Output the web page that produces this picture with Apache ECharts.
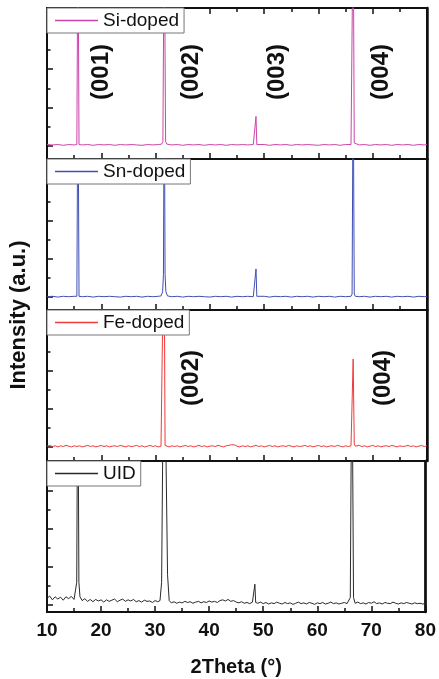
<!DOCTYPE html>
<html>
<head>
<meta charset="utf-8">
<script src="https://cdn.jsdelivr.net/npm/echarts@6/dist/echarts.min.js"></script>
<style>
  html, body { margin: 0; padding: 0; background: #fff; }
  #main { width: 439px; height: 679px; }
</style>
</head>
<body>
<div id="main"></div>
<script>
// sample names, top to bottom
var names = ['Si-doped', 'Sn-doped', 'Fe-doped', 'UID'];
var xTitle = '2Theta (°)';
var yTitle = 'Intensity (a.u.)';
// tick positions on the intensity axes (a.u.)
var yMajorTicks = [0, 100, 200, 300];
var yMinorTicks = [50, 150, 250, 350];
// peak labels
var siLabels = ['(001)', '(002)', '(003)', '(004)'];
var feLabels = ['(002)', '(004)'];

// [2theta, intensity]; tall peaks run off the panel
var siData = [
  [10, 2], [11, 1], [12, 2], [13, 0], [14, 2], [15, 1], [15.5, 2], [15.7, 600], [15.9, 2],
  [16.5, 1], [17.5, 2], [18.5, 0], [19.5, 2], [20.5, 1], [21.5, 2], [22.5, 0], [23.5, 2],
  [24.5, 1], [25.5, 2], [26.5, 1], [27.5, 0], [28.5, 2], [29.5, 1], [30.5, 2], [31.1, 3],
  [31.35, 10], [31.6, 600], [31.85, 10], [32.1, 3], [33, 1], [34, 2], [35, 0], [36, 2],
  [37, 1], [38, 2], [39, 0], [40, 2], [41, 1], [42, 2], [43, 0], [44, 2], [45, 1], [46, 2],
  [47, 1], [48, 2], [48.35, 2], [48.5, 76], [48.65, 2], [49, 1], [50, 2], [51, 0], [52, 2],
  [53, 1], [54, 2], [55, 0], [56, 2], [57, 1], [58, 2], [59, 1], [60, 0], [61, 2], [62, 1],
  [63, 2], [64, 0], [65, 2], [66, 2], [66.2, 6], [66.4, 600], [66.6, 6], [66.8, 2], [67.5, 1],
  [68.5, 2], [69.5, 0], [70.5, 2], [71.5, 1], [72.5, 2], [73.5, 0], [74.5, 2], [75.5, 1],
  [76.5, 2], [77.5, 0], [78.5, 2], [79.5, 1], [80, 2]
];
var snData = [
  [10, 1], [11, 2], [12, 0], [13, 2], [14, 1], [15, 2], [15.5, 2], [15.7, 600], [15.9, 2],
  [16.5, 1], [17.5, 2], [18.5, 0], [19.5, 2], [20.5, 1], [21.5, 2], [22.5, 1], [23.5, 0],
  [24.5, 2], [25.5, 1], [26.5, 2], [27.5, 0], [28.5, 2], [29.5, 1], [30.5, 2], [31.0, 3],
  [31.3, 14], [31.45, 60], [31.6, 600], [31.75, 60], [31.9, 14], [32.2, 3], [33, 1], [34, 2],
  [35, 0], [36, 2], [37, 1], [38, 2], [39, 1], [40, 0], [41, 2], [42, 1], [43, 2], [44, 0],
  [45, 2], [46, 1], [47, 2], [48, 1], [48.35, 2], [48.5, 74], [48.65, 2], [49, 1], [50, 2],
  [51, 0], [52, 2], [53, 1], [54, 2], [55, 0], [56, 2], [57, 1], [58, 2], [59, 0], [60, 2],
  [61, 1], [62, 2], [63, 0], [64, 2], [65, 1], [66, 2], [66.2, 8], [66.4, 600], [66.6, 8],
  [66.8, 2], [67.5, 1], [68.5, 2], [69.5, 0], [70.5, 2], [71.5, 1], [72.5, 2], [73.5, 0],
  [74.5, 2], [75.5, 1], [76.5, 2], [77.5, 0], [78.5, 2], [79.5, 1], [80, 2]
];
var feData = [
  [10, 2], [10.5, 4], [11, 1], [11.5, 3], [12, 0], [12.5, 3], [13, 1], [13.5, 4], [14, 2],
  [14.5, 0], [15, 3], [15.5, 1], [16, 3], [16.5, 0], [17, 2], [17.5, 4], [18, 1], [18.5, 3],
  [19, 0], [19.5, 2], [20, 4], [20.5, 1], [21, 3], [21.5, 0], [22, 2], [22.5, 3], [23, 1],
  [23.5, 4], [24, 2], [24.5, 0], [25, 3], [25.5, 1], [26, 2], [26.5, 4], [27, 1], [27.5, 3],
  [28, 0], [28.5, 2], [29, 4], [29.5, 1], [30, 3], [30.5, 0], [31, 2], [31.35, 4],
  [31.55, 600], [31.75, 4], [32, 2], [32.5, 0], [33, 3], [33.5, 1], [34, 3], [34.5, 0],
  [35, 2], [35.5, 4], [36, 1], [36.5, 3], [37, 0], [37.5, 2], [38, 4], [38.5, 1], [39, 3],
  [39.5, 0], [40, 2], [40.5, 3], [41, 1], [41.5, 4], [42, 2], [42.5, 0], [43, 3], [43.5, 4],
  [44, 6], [44.3, 8], [44.6, 5], [45, 2], [45.5, 0], [46, 3], [46.5, 1], [47, 3], [47.5, 0],
  [48, 2], [48.5, 4], [49, 1], [49.5, 3], [50, 0], [50.5, 2], [51, 4], [51.5, 1], [52, 3],
  [52.5, 0], [53, 2], [53.5, 3], [54, 1], [54.5, 4], [55, 2], [55.5, 0], [56, 3], [56.5, 1],
  [57, 2], [57.5, 4], [58, 1], [58.5, 3], [59, 0], [59.5, 2], [60, 4], [60.5, 1], [61, 3],
  [61.5, 0], [62, 2], [62.5, 3], [63, 1], [63.5, 4], [64, 2], [64.5, 0], [65, 3], [65.5, 1],
  [66, 3], [66.2, 8], [66.4, 231], [66.6, 8], [66.8, 2], [67.5, 4], [68, 1], [68.5, 3],
  [69, 0], [69.5, 2], [70, 4], [70.5, 1], [71, 3], [71.5, 0], [72, 2], [72.5, 3], [73, 1],
  [73.5, 4], [74, 2], [74.5, 0], [75, 3], [75.5, 1], [76, 2], [76.5, 4], [77, 1], [77.5, 3],
  [78, 0], [78.5, 2], [79, 4], [79.5, 1], [80, 3]
];
var uidData = [
  [10, 18], [10.5, 24], [11, 14], [11.5, 22], [12, 16], [12.5, 21], [13, 13], [13.5, 22],
  [14, 17], [14.5, 23], [15, 15], [15.3, 19], [15.5, 60], [15.7, 700], [15.9, 60], [16.1, 22],
  [16.5, 12], [17, 17], [17.5, 10], [18, 15], [18.5, 9], [19, 15], [19.5, 11], [20, 14],
  [20.5, 8], [21, 14], [21.5, 10], [22, 13], [22.5, 16], [23, 9], [23.5, 13], [24, 16],
  [24.5, 10], [25, 14], [25.5, 11], [26, 15], [26.5, 9], [27, 12], [27.5, 8], [28, 13],
  [28.5, 10], [29, 11], [29.5, 7], [30, 12], [30.5, 9], [30.9, 12], [31.2, 60], [31.4, 400],
  [31.7, 700], [32.0, 400], [32.3, 80], [32.6, 12], [33, 6], [33.5, 9], [34, 5], [34.5, 8],
  [35, 6], [35.5, 10], [36, 7], [36.5, 9], [37, 5], [37.5, 8], [38, 10], [38.5, 6], [39, 9],
  [39.5, 7], [40, 11], [40.5, 8], [41, 10], [41.5, 7], [42, 12], [42.5, 14], [43, 11],
  [43.5, 15], [44, 10], [44.5, 12], [45, 8], [45.5, 6], [46, 9], [46.5, 5], [47, 7],
  [47.5, 4], [48, 8], [48.3, 6], [48.45, 55], [48.6, 7], [49, 5], [49.5, 8], [50, 4],
  [50.5, 7], [51, 3], [51.5, 6], [52, 4], [52.5, 8], [53, 5], [53.5, 3], [54, 7], [54.5, 4],
  [55, 6], [55.5, 2], [56, 5], [56.5, 8], [57, 4], [57.5, 6], [58, 3], [58.5, 7], [59, 5],
  [59.5, 2], [60, 6], [60.5, 4], [61, 7], [61.5, 3], [62, 5], [62.5, 8], [63, 4], [63.5, 6],
  [64, 3], [64.5, 5], [65, 7], [65.5, 4], [65.8, 6], [66.1, 20], [66.4, 700], [66.7, 20],
  [67, 5], [67.5, 8], [68, 4], [68.5, 6], [69, 3], [69.5, 7], [70, 5], [70.5, 9], [71, 4],
  [71.5, 6], [72, 3], [72.5, 7], [73, 5], [73.5, 4], [74, 8], [74.5, 5], [75, 3], [75.5, 6],
  [76, 4], [76.5, 7], [77, 5], [77.5, 3], [78, 6], [78.5, 4], [79, 5], [79.5, 3], [80, 4]
];

var seriesData = [siData, snData, feData, uidData];
var colors = ['#cc44aa', '#4050b4', '#f03a3a', '#2a2a2a'];

// layout of the four stacked panels
var font = 'Liberation Sans, Arial, sans-serif';
var gridTops = [8, 159, 310, 461];
var gridHeight = 151;
var yMins = [-36, -34, -37, -18];
var ySpan = 397;

var grids = [], xAxes = [], yAxes = [], series = [], legends = [];
for (var i = 0; i < 4; i++) {
  grids.push({
    left: 47, right: 12, top: gridTops[i], height: gridHeight,
    show: true, borderColor: '#111', borderWidth: 2
  });
  xAxes.push({
    gridIndex: i, type: 'value', min: 10, max: 80, interval: 10, position: 'bottom',
    axisLine: { show: true, onZero: false, lineStyle: { color: '#111', width: 2 } },
    axisTick: { inside: true, length: 6, lineStyle: { color: '#111', width: 1.5 } },
    minorTick: { show: true, splitNumber: 2, length: 4, lineStyle: { color: '#111', width: 1.5 } },
    splitLine: { show: false },
    axisLabel: {
      show: i === 3, margin: 9, color: '#111',
      fontSize: 19, fontWeight: 'bold', fontFamily: font
    },
    name: i === 3 ? xTitle : '',
    nameLocation: 'middle', nameGap: 45,
    nameTextStyle: { fontSize: 20, fontWeight: 'bold', color: '#111', fontFamily: font }
  });
  yAxes.push({
    gridIndex: i, type: 'value', position: 'left', min: yMins[i], max: yMins[i] + ySpan,
    axisLine: { show: true, onZero: false, lineStyle: { color: '#111', width: 2 } },
    axisTick: { inside: true, length: 6, customValues: yMajorTicks, lineStyle: { color: '#111', width: 1.5 } },
    axisLabel: { show: false },
    splitLine: { show: false }
  });
  yAxes.push({
    gridIndex: i, type: 'value', position: 'left', min: yMins[i], max: yMins[i] + ySpan,
    axisLine: { show: false, onZero: false },
    axisTick: { inside: true, length: 3.5, customValues: yMinorTicks, lineStyle: { color: '#111', width: 1.5 } },
    axisLabel: { show: false },
    splitLine: { show: false }
  });
  series.push({
    name: names[i], type: 'line', xAxisIndex: i, yAxisIndex: 2 * i,
    data: seriesData[i], symbol: 'none', clip: true,
    lineStyle: { color: colors[i], width: 1 },
    itemStyle: { color: colors[i] }
  });
  legends.push({
    data: [names[i]], left: 47, top: gridTops[i], selectedMode: false,
    backgroundColor: '#fff', borderColor: '#777', borderWidth: 1,
    padding: [2, 5, 2, 8], itemWidth: 43, itemHeight: 1.5, icon: 'rect',
    textStyle: { fontSize: 19, lineHeight: 21, color: '#111', fontFamily: font }
  });
}
// thicker frame on the right of every panel
for (var j = 0; j < 4; j++) {
  yAxes.push({
    gridIndex: j, type: 'value', position: 'right', min: yMins[j], max: yMins[j] + ySpan,
    axisLine: { show: true, onZero: false, lineStyle: { color: '#111', width: 2.5 } },
    axisTick: { show: false },
    axisLabel: { show: false },
    splitLine: { show: false }
  });
}
// ticks along the top edge of the first panel
xAxes.push({
  gridIndex: 0, type: 'value', min: 10, max: 80, interval: 10, position: 'top',
  axisLine: { show: false, onZero: false },
  axisTick: { inside: true, length: 6, lineStyle: { color: '#111', width: 1.5 } },
  minorTick: { show: true, splitNumber: 2, length: 4, lineStyle: { color: '#111', width: 1.5 } },
  splitLine: { show: false },
  axisLabel: { show: false }
});

function peakLabel(text, x, y) {
  return {
    type: 'text', x: x, y: y, rotation: Math.PI / 2, z: 10,
    style: {
      text: text, fill: '#111', font: 'bold 24px ' + font,
      textAlign: 'center', textVerticalAlign: 'middle'
    }
  };
}

var graphics = [
  peakLabel(siLabels[0], 101, 72),
  peakLabel(siLabels[1], 191, 72),
  peakLabel(siLabels[2], 277, 72),
  peakLabel(siLabels[3], 381, 72),
  peakLabel(feLabels[0], 191, 378),
  peakLabel(feLabels[1], 383, 378),
  {
    type: 'text', x: 19, y: 315, rotation: Math.PI / 2,
    style: {
      text: yTitle, fill: '#111', font: 'bold 22px ' + font,
      textAlign: 'center', textVerticalAlign: 'middle'
    }
  }
];

var chart = echarts.init(document.getElementById('main'));
chart.setOption({
  animation: false,
  backgroundColor: '#fff',
  grid: grids,
  xAxis: xAxes,
  yAxis: yAxes,
  legend: legends,
  series: series,
  graphic: graphics
});
</script>
</body>
</html>
